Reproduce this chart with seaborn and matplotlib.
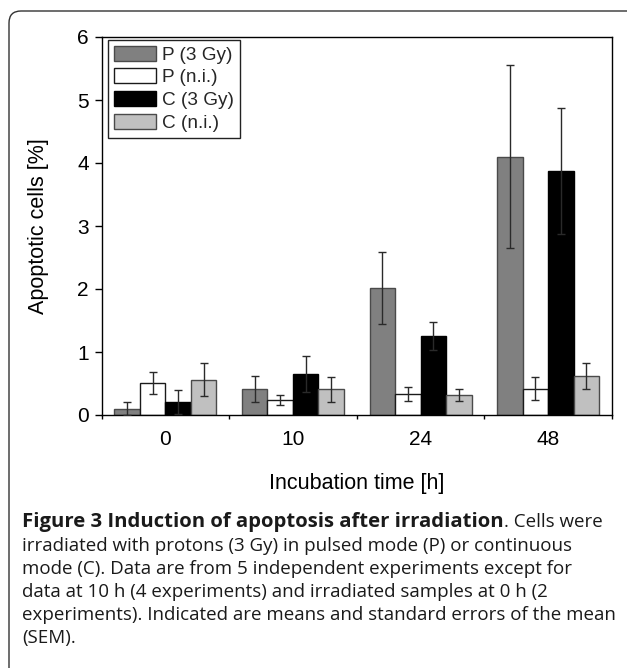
import numpy as np
import pandas as pd
import seaborn as sns
import matplotlib
matplotlib.use("Agg")
import matplotlib.pyplot as plt
from matplotlib.patches import FancyBboxPatch
from matplotlib.transforms import IdentityTransform
from matplotlib.ticker import FixedLocator

# ---- data ----
times = ["0", "10", "24", "48"]
groups = ["P (3 Gy)", "P (n.i.)", "C (3 Gy)", "C (n.i.)"]
p_3gy = [0.10, 0.41, 2.01, 4.10]
p_3gy_sem = [0.10, 0.21, 0.57, 1.45]
p_ni = [0.51, 0.24, 0.34, 0.42]
p_ni_sem = [0.17, 0.08, 0.11, 0.18]
c_3gy = [0.20, 0.65, 1.25, 3.88]
c_3gy_sem = [0.19, 0.29, 0.22, 1.00]
c_ni = [0.56, 0.41, 0.32, 0.62]
c_ni_sem = [0.26, 0.20, 0.10, 0.20]
y_ticks = [0, 1, 2, 3, 4, 5, 6]

means = [p_3gy, p_ni, c_3gy, c_ni]
sems = [p_3gy_sem, p_ni_sem, c_3gy_sem, c_ni_sem]
fills = ["#808080", "#ffffff", "#000000", "#c0c0c0"]
edges = ["#4a4a4a", "#1a1a1a", "#000000", "#4a4a4a"]

rows = []
for g, m in zip(groups, means):
    for t, v in zip(times, m):
        rows.append({"time": t, "group": g, "value": v})
df = pd.DataFrame(rows)

sns.set_style("ticks")
plt.rcParams["font.family"] = ["Liberation Sans", "DejaVu Sans"]

fig = plt.figure(figsize=(6.27, 6.68), dpi=100)
ax = fig.add_axes([101.5 / 627, 1 - 415 / 668, (612 - 101.5) / 627, (415 - 37) / 668])

sns.barplot(data=df, x="time", y="value", hue="group", order=times,
            hue_order=groups, palette=fills, errorbar=None, width=0.8,
            saturation=1, linewidth=1, ax=ax, legend=True)

for cont, ec, s in zip(ax.containers, edges, sems):
    xs, ys = [], []
    for patch in cont.patches:
        patch.set_edgecolor(ec)
        xs.append(patch.get_x() + patch.get_width() / 2)
        ys.append(patch.get_height())
    ax.errorbar(xs, ys, yerr=s, fmt="none", ecolor="#2a2a2a",
                elinewidth=1, capsize=2.8, capthick=1, zorder=5)

ax.set_xlim(-0.5, 3.5)
ax.set_ylim(0, 6)
ax.set_yticks(y_ticks)
ax.set_yticklabels([str(v) for v in y_ticks])
ax.xaxis.set_minor_locator(FixedLocator(np.arange(-0.5, 3.6, 1.0)))
ax.tick_params(axis="x", which="major", length=0, pad=11, labelsize=15, colors="black")
ax.tick_params(axis="x", which="minor", length=3, width=1, direction="out", color="black")
ax.tick_params(axis="y", which="major", length=4.8, width=1, pad=4.3, labelsize=15,
               direction="out", color="black", labelcolor="black")
for sp in ax.spines.values():
    sp.set_visible(True)
    sp.set_color("black")
    sp.set_linewidth(1)

ax.set_xlabel("Incubation time [h]", fontsize=15.5, color="black")
ax.set_ylabel("Apoptotic cells [%]", fontsize=15.5, color="black")
ax.xaxis.set_label_coords(0.5, -(483 - 415) / 378)
ax.yaxis.label.set_va("center")
ax.xaxis.label.set_va("center")
ax.yaxis.set_label_coords(-(101.5 - 38.5) / 510.5, 0.5)

handles, labels = ax.get_legend_handles_labels()
for h, ec in zip(handles, edges):
    h.set_edgecolor(ec)
    h.set_linewidth(1)
leg = ax.legend(handles, labels, loc="upper left",
                bbox_to_anchor=((108.3 - 101.5) / 510.5, (415 - 40) / 378),
                borderaxespad=0, fontsize=13.7, handlelength=2.2, handleheight=0.82,
                handletextpad=0.32, labelspacing=0.25, borderpad=0.3,
                fancybox=False, frameon=True, framealpha=1)
leg.get_frame().set_edgecolor("#222222")
leg.get_frame().set_linewidth(1)

# ---- outer rounded frame ----
frame = FancyBboxPatch((9, -30), 660, 668 - 11 + 30,
                       boxstyle="round,pad=0,rounding_size=12",
                       transform=IdentityTransform(), fill=False,
                       edgecolor="#333333", linewidth=1.0)
fig.add_artist(frame)

# ---- caption ----
cap_font = ["Open Sans", "DejaVu Sans"]
cap_size = 13.5
x0 = 22 / 627
baselines = [526.7, 550.7, 573.7, 597.0, 620.0, 643.0]
bold_part = "Figure 3 Induction of apoptosis after irradiation"
first_rest = ". Cells were"
other_lines = [
    "irradiated with protons (3 Gy) in pulsed mode (P) or continuous",
    "mode (C). Data are from 5 independent experiments except for",
    "data at 10 h (4 experiments) and irradiated samples at 0 h (2",
    "experiments). Indicated are means and standard errors of the mean",
    "(SEM).",
]
tb = fig.text(x0, 1 - baselines[0] / 668, bold_part, fontsize=14.6,
              fontweight="bold", family=cap_font, va="baseline", ha="left",
              color="#1a1a1a")
renderer = fig.canvas.get_renderer()
bb = tb.get_window_extent(renderer)
fig.text(bb.x1 / fig.bbox.width, 1 - baselines[0] / 668, first_rest,
         fontsize=cap_size, family=cap_font, va="baseline", ha="left",
         color="#1a1a1a")
for line, yb in zip(other_lines, baselines[1:]):
    fig.text(x0, 1 - yb / 668, line, fontsize=cap_size, family=cap_font,
             va="baseline", ha="left", color="#1a1a1a")

fig.savefig("out.png", dpi=100)
